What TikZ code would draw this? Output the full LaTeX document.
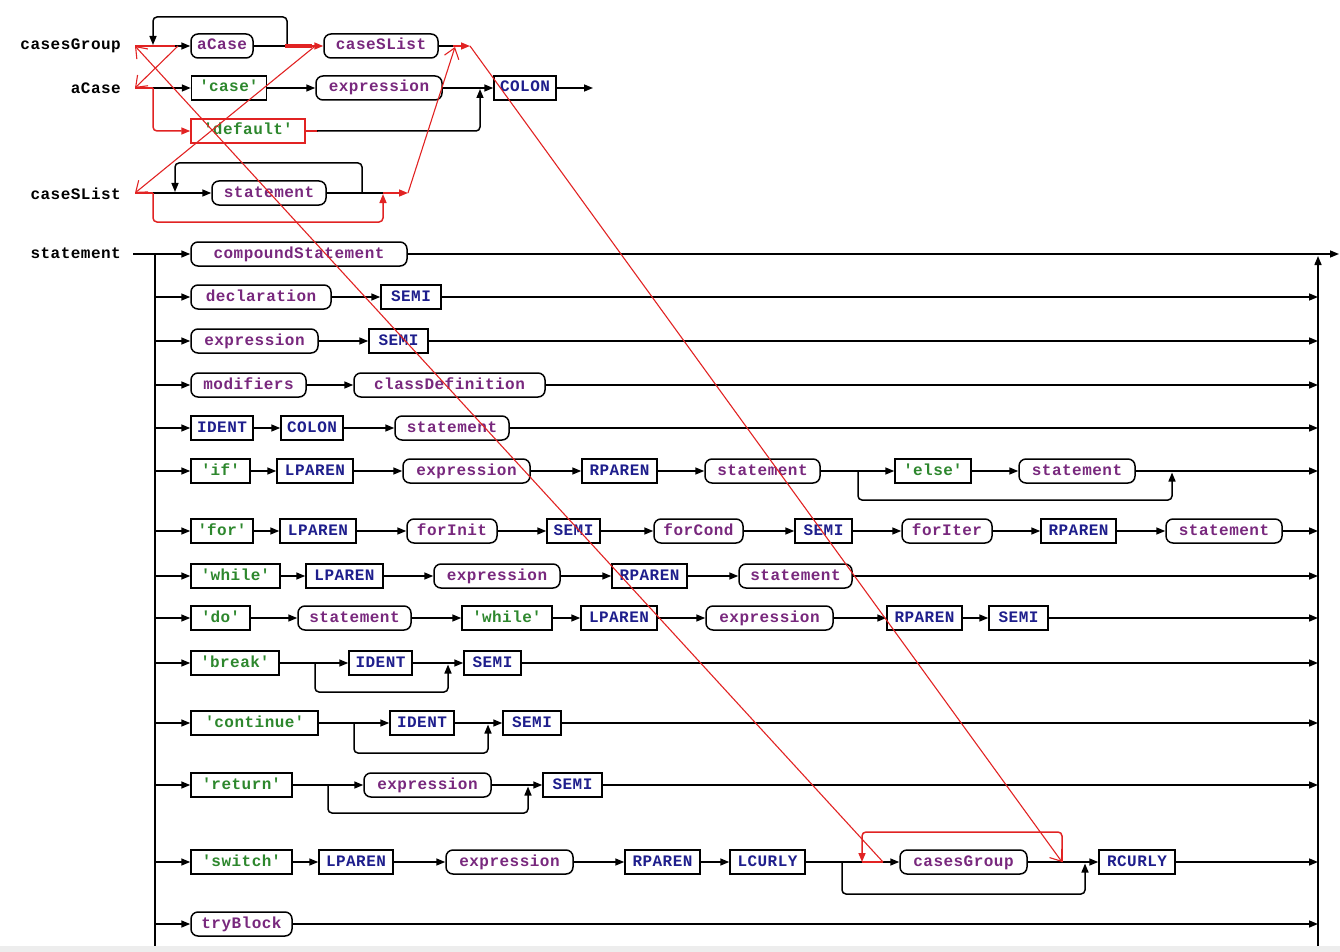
\documentclass[tikz,border=0pt]{standalone}
\usepackage{fontspec}
\usetikzlibrary{arrows.meta}
\newfontfamily\monofam{Liberation Mono}[LetterSpace=3]
\newcommand\nf{\monofam\bfseries\fontsize{16}{18}\selectfont}
\newcommand\qq{\textquotesingle}
\definecolor{tokc}{RGB}{30,30,140}
\definecolor{refc}{RGB}{120,40,125}
\definecolor{litc}{RGB}{45,135,45}
\definecolor{hotred}{RGB}{225,35,35}
\begin{document}
\begin{tikzpicture}[x=1pt,y=-1pt,
  base/.style={draw, line width=1.5pt, minimum height=24pt, inner sep=0pt, font=\nf, text height=8.5pt, text depth=0.5pt},
  tok/.style={base, text=tokc},
  lit/.style={base, text=litc},
  ref/.style={base, rounded corners=7pt, text=refc},
  lbl/.style={anchor=east, font=\nf, inner sep=0pt, text=black},
  wire/.style={line width=1.5pt, rounded corners=4pt},
  flow/.style={wire, -{Triangle[length=9pt,width=7pt]}},
  hot/.style={line width=1.5pt, draw=hotred, rounded corners=4pt},
  hotflow/.style={hot, -{Triangle[length=9pt,width=7pt]}},
  trace/.style={draw=hotred, line width=1.1pt, -{Straight Barb[length=10pt,width=15pt]}}
]
\useasboundingbox (0,0) rectangle (1340,952);
\fill[black!7] (0,946) rectangle (1340,952);

% ---------- labels ----------
\node[lbl] (lCG) at (121,46) {casesGroup};
\node[lbl] (lAC) at (121,88) {aCase};
\node[lbl] (lCS) at (121,194) {caseSList};
\node[lbl] (lST) at (121,253) {statement};

% ---------- casesGroup rule ----------
\coordinate (cgS) at (135,46);
\coordinate (cg1) at (175,46);
\coordinate (cgE) at (470,46);
\node[ref, minimum width=62pt] (acR) at (222,46) {aCase};
\node[ref, minimum width=114pt] (cslR) at (381,46) {caseSList};
\draw[hot] (cgS) -- (cg1);
\draw[flow] (cg1) -- (acR.west);
\draw[flow] (287,46) |- (153,17) -- (153,45);
\draw[wire] (acR.east) -- (286,46);
\draw[hotred, line width=4.5pt] (285,46) -- (312,46);
\draw[hotflow] (305,46) -- (cslR.west);
\draw[wire] (cslR.east) -- (453,46);
\draw[hotflow] (453,46) -- (cgE);

% ---------- aCase rule ----------
\coordinate (acS) at (135,88);
\coordinate (acB) at (153,88);
\node[lit, minimum width=75pt] (caseL) at (229,88) {\qq case\qq};
\node[ref, minimum width=126pt] (exA) at (379,88) {expression};
\node[tok, minimum width=62pt] (colA) at (525,88) {COLON};
\node[lit, minimum width=114pt, draw=hotred] (defL) at (248,131) {\qq default\qq};
\draw[hot] (acS) -- (acB);
\draw[flow] (acB) -- (caseL.west);
\draw[flow] (caseL.east) -- (exA.west);
\draw[flow] (exA.east) -- (colA.west);
\draw[hotflow] (acB) |- (defL.west);
\draw[hot] (defL.east) -- (318,131);
\draw[flow] (317,131) -| (480,89);
\draw[flow] (colA.east) -- (593,88);

% ---------- caseSList rule ----------
\coordinate (csS) at (135,193);
\coordinate (csB) at (153,193);
\node[ref, minimum width=114pt] (stC) at (269,193) {statement};
\draw[hot] (csS) -- (csB);
\draw[flow] (csB) -- (stC.west);
\draw[wire] (stC.east) -- (384,193);
\draw[flow] (362,193) |- (175,163) -- (175,192);
\draw[hotflow] (csB) |- (383,222) -- (383,194);
\draw[hotflow] (383,193) -- (408,193);

% ---------- statement rule ----------
\coordinate (stS) at (133,254);
\draw[wire] (155,254) -- (155,946);
\draw[flow] (1318,946) -- (1318,256);

\node[ref, minimum width=216pt] (n1-1) at (299,254) {compoundStatement};

\node[ref, minimum width=140pt] (n2-1) at (261,297) {declaration};
\node[tok, minimum width=60pt] (n2-2) at (411,297) {SEMI};

\node[ref, minimum width=127pt] (n3-1) at (254.5,341) {expression};
\node[tok, minimum width=59pt] (n3-2) at (398.5,341) {SEMI};

\node[ref, minimum width=115pt] (n4-1) at (248.5,385) {modifiers};
\node[ref, minimum width=191pt] (n4-2) at (449.5,385) {classDefinition};

\node[tok, minimum width=62pt] (n5-1) at (222,428) {IDENT};
\node[tok, minimum width=62pt] (n5-2) at (312,428) {COLON};
\node[ref, minimum width=114pt] (n5-3) at (452,428) {statement};

\node[lit, minimum width=59pt] (n6-1) at (220.5,471) {\qq if\qq};
\node[tok, minimum width=76pt] (n6-2) at (315,471) {LPAREN};
\node[ref, minimum width=127pt] (n6-3) at (466.5,471) {expression};
\node[tok, minimum width=75pt] (n6-4) at (619.5,471) {RPAREN};
\node[ref, minimum width=115pt] (n6-5) at (762.5,471) {statement};
\node[lit, minimum width=76pt] (n6-6) at (933,471) {\qq else\qq};
\node[ref, minimum width=116pt] (n6-7) at (1077,471) {statement};

\node[lit, minimum width=62pt] (n7-1) at (222,531) {\qq for\qq};
\node[tok, minimum width=76pt] (n7-2) at (318,531) {LPAREN};
\node[ref, minimum width=90pt] (n7-3) at (452,531) {forInit};
\node[tok, minimum width=53pt] (n7-4) at (573.5,531) {SEMI};
\node[ref, minimum width=89pt] (n7-5) at (698.5,531) {forCond};
\node[tok, minimum width=57pt] (n7-6) at (823.5,531) {SEMI};
\node[ref, minimum width=90pt] (n7-7) at (947,531) {forIter};
\node[tok, minimum width=75pt] (n7-8) at (1078.5,531) {RPAREN};
\node[ref, minimum width=116pt] (n7-9) at (1224,531) {statement};

\node[lit, minimum width=89pt] (n8-1) at (235.5,576) {\qq while\qq};
\node[tok, minimum width=77pt] (n8-2) at (344.5,576) {LPAREN};
\node[ref, minimum width=126pt] (n8-3) at (497,576) {expression};
\node[tok, minimum width=75pt] (n8-4) at (649.5,576) {RPAREN};
\node[ref, minimum width=113pt] (n8-5) at (795.5,576) {statement};

\node[lit, minimum width=59pt] (n9-1) at (220.5,618) {\qq do\qq};
\node[ref, minimum width=113pt] (n9-2) at (354.5,618) {statement};
\node[lit, minimum width=90pt] (n9-3) at (507,618) {\qq while\qq};
\node[tok, minimum width=76pt] (n9-4) at (619,618) {LPAREN};
\node[ref, minimum width=127pt] (n9-5) at (769.5,618) {expression};
\node[tok, minimum width=75pt] (n9-6) at (924.5,618) {RPAREN};
\node[tok, minimum width=59pt] (n9-7) at (1018.5,618) {SEMI};

\node[lit, minimum width=88pt] (n10-1) at (235,663) {\qq break\qq};
\node[tok, minimum width=63pt] (n10-2) at (380.5,663) {IDENT};
\node[tok, minimum width=57pt] (n10-3) at (492.5,663) {SEMI};

\node[lit, minimum width=127pt] (n11-1) at (254.5,723) {\qq continue\qq};
\node[tok, minimum width=64pt] (n11-2) at (422,723) {IDENT};
\node[tok, minimum width=58pt] (n11-3) at (532,723) {SEMI};

\node[lit, minimum width=101pt] (n12-1) at (241.5,785) {\qq return\qq};
\node[ref, minimum width=127pt] (n12-2) at (427.5,785) {expression};
\node[tok, minimum width=59pt] (n12-3) at (572.5,785) {SEMI};

\node[lit, minimum width=101pt] (n13-1) at (241.5,862) {\qq switch\qq};
\node[tok, minimum width=74pt] (n13-2) at (356,862) {LPAREN};
\node[ref, minimum width=127pt] (n13-3) at (509.5,862) {expression};
\node[tok, minimum width=75pt] (n13-4) at (662.5,862) {RPAREN};
\node[tok, minimum width=75pt] (n13-5) at (767.5,862) {LCURLY};
\node[ref, minimum width=127pt] (n13-6) at (963.5,862) {casesGroup};
\node[tok, minimum width=76pt] (n13-7) at (1137,862) {RCURLY};

\node[ref, minimum width=101pt] (n14-1) at (241.5,924) {tryBlock};

% entry arrows
\draw[flow] (stS) -- (n1-1.west);
\draw[flow] (n1-1.east) -- (1339,254);
\foreach \r/\y in {2/297,3/341,4/385,5/428,6/471,7/531,8/576,9/618,10/663,11/723,12/785,13/862,14/924}
  \draw[flow] (155,\y) -- (n\r-1.west);
% exits
\foreach \n/\y in {n2-2/297,n3-2/341,n4-2/385,n5-3/428,n6-7/471,n7-9/531,n8-5/576,n9-7/618,n10-3/663,n11-3/723,n12-3/785,n13-7/862,n14-1/924}
  \draw[flow] (\n.east) -- (1318,\y);
% chains
\foreach \a/\b in {n2-1/n2-2,n3-1/n3-2,n4-1/n4-2,n5-1/n5-2,n5-2/n5-3,
  n6-1/n6-2,n6-2/n6-3,n6-3/n6-4,n6-4/n6-5,n6-6/n6-7,
  n7-1/n7-2,n7-2/n7-3,n7-3/n7-4,n7-4/n7-5,n7-5/n7-6,n7-6/n7-7,n7-7/n7-8,n7-8/n7-9,
  n8-1/n8-2,n8-2/n8-3,n8-3/n8-4,n8-4/n8-5,
  n9-1/n9-2,n9-2/n9-3,n9-3/n9-4,n9-4/n9-5,n9-5/n9-6,n9-6/n9-7,
  n10-2/n10-3,n11-2/n11-3,n12-2/n12-3,
  n13-1/n13-2,n13-2/n13-3,n13-3/n13-4,n13-4/n13-5,n13-6/n13-7}
  \draw[flow] (\a.east) -- (\b.west);

% optional branches
\coordinate (b6) at (858,471);
\draw[wire] (n6-5.east) -- (b6);
\draw[flow] (b6) -- (n6-6.west);
\draw[flow] (b6) |- (1172,500) -- (1172,472.5);

\coordinate (b10) at (315,663);
\draw[wire] (n10-1.east) -- (b10);
\draw[flow] (b10) -- (n10-2.west);
\draw[flow] (b10) |- (448,692) -- (448,664.5);

\coordinate (b11) at (354,723);
\draw[wire] (n11-1.east) -- (b11);
\draw[flow] (b11) -- (n11-2.west);
\draw[flow] (b11) |- (488,753) -- (488,724.5);

\coordinate (b12) at (328,785);
\draw[wire] (n12-1.east) -- (b12);
\draw[flow] (b12) -- (n12-2.west);
\draw[flow] (b12) |- (528,813) -- (528,786.5);

\coordinate (b13) at (842,862);
\coordinate (sw1) at (862,862);
\coordinate (sw2) at (883,862);
\coordinate (sw3) at (1062,862);
\draw[wire] (n13-5.east) -- (sw1);
\draw[hot] (sw1) -- (sw2);
\draw[flow] (sw2) -- (n13-6.west);
\draw[hotflow] (sw3) |- (862,832) -- (sw1);
\draw[flow] (b13) |- (1085,894) -- (1085,863.5);

% ---------- trace lines ----------
\draw[trace] (sw2) -- (cgS);
\draw[trace] (178,46) -- (acS);
\draw[trace] (314,47) -- (csS);
\draw[trace] (408,193) -- (455,47);
\draw[trace] (cgE) -- (sw3);
\end{tikzpicture}
\end{document}
